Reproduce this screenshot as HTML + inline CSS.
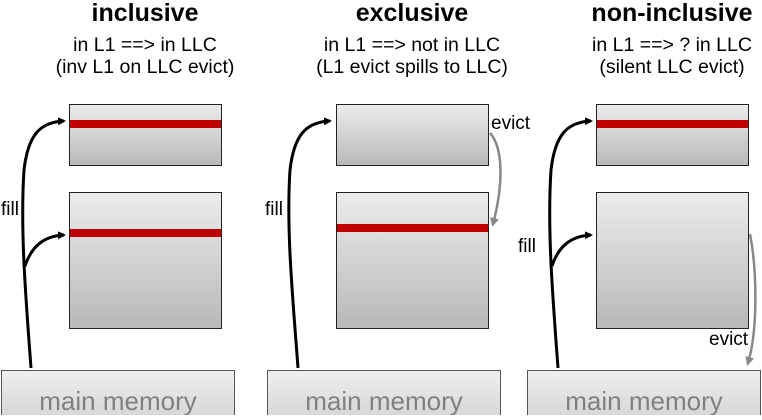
<!DOCTYPE html>
<html><head><style>
body{margin:0;width:762px;height:415px;overflow:hidden;background:#fff;font-family:"Liberation Sans",sans-serif;}
</style></head><body>
<svg width="762" height="415" xmlns="http://www.w3.org/2000/svg" font-family="Liberation Sans, sans-serif">
<defs>
<linearGradient id="g" x1="0" y1="0" x2="0" y2="1"><stop offset="0" stop-color="#ececec"/><stop offset="1" stop-color="#b8b8b8"/></linearGradient>
<linearGradient id="m" x1="0" y1="0" x2="0" y2="1"><stop offset="0" stop-color="#f0f0f0"/><stop offset="1" stop-color="#d4d4d4"/></linearGradient>
<marker id="ab" markerWidth="8" markerHeight="8" refX="6" refY="4" orient="auto" markerUnits="userSpaceOnUse"><path d="M0,0 L8,4 L0,8z" fill="#000"/></marker>
<marker id="ag" markerWidth="9" markerHeight="9" refX="6" refY="4.5" orient="auto" markerUnits="userSpaceOnUse"><path d="M0,0 L9,4.5 L0,9z" fill="#888"/></marker>
</defs>
<g text-anchor="middle">
<text x="145" y="21" font-size="25" font-weight="bold">inclusive</text>
<text x="145" y="51" font-size="19.5">in L1 ==&gt; in LLC</text>
<text x="145" y="73" font-size="19.5">(inv L1 on LLC evict)</text>
<text x="412" y="21" font-size="25" font-weight="bold">exclusive</text>
<text x="412" y="51" font-size="19.5">in L1 ==&gt; not in LLC</text>
<text x="412" y="73" font-size="19.5">(L1 evict spills to LLC)</text>
<text x="672" y="21" font-size="25" font-weight="bold">non-inclusive</text>
<text x="672" y="51" font-size="19.5">in L1 ==&gt; ? in LLC</text>
<text x="672" y="73" font-size="19.5">(silent LLC evict)</text>
</g>
<g stroke="#222" stroke-width="1">
<rect x="69.5" y="104.5" width="152" height="61" fill="url(#g)"/>
<rect x="69.5" y="192.5" width="152" height="136" fill="url(#g)"/>
<rect x="336.5" y="104.5" width="152" height="61" fill="url(#g)"/>
<rect x="336.5" y="192.5" width="152" height="136" fill="url(#g)"/>
<rect x="596.5" y="104.5" width="152" height="61" fill="url(#g)"/>
<rect x="596.5" y="192.5" width="152" height="136" fill="url(#g)"/>
</g>
<g stroke="#555" stroke-width="1">
<rect x="1.5" y="370.5" width="233" height="50" fill="url(#m)"/>
<rect x="267.5" y="370.5" width="233" height="50" fill="url(#m)"/>
<rect x="527.5" y="370.5" width="233" height="50" fill="url(#m)"/>
</g>
<g fill="#c00000">
<rect x="70" y="120" width="151" height="8"/>
<rect x="70" y="229" width="151" height="8"/>
<rect x="337" y="224" width="151" height="8"/>
<rect x="597" y="120" width="151" height="8"/>
</g>
<g font-size="26" fill="#808080" text-anchor="middle">
<text x="118" y="410">main memory</text>
<text x="384" y="410">main memory</text>
<text x="644" y="410">main memory</text>
</g>
<g fill="none" stroke="#000" stroke-width="3">
<path d="M31,368 C26,300 20,230 24,170 C28,135 40,122 64,121" marker-end="url(#ab)"/>
<path d="M25,266 C32,245 45,236 64,235" marker-end="url(#ab)"/>
<path d="M298,368 C293,300 286,230 290,170 C294,135 306,122 330,121" marker-end="url(#ab)"/>
<path d="M558,368 C553,300 547,230 551,170 C555,135 567,122 591,121" marker-end="url(#ab)"/>
<path d="M552,266 C559,245 572,236 591,235" marker-end="url(#ab)"/>
</g>
<g fill="none" stroke="#888" stroke-width="2.5">
<path d="M490,133 C505,150 502,190 493,224" marker-end="url(#ag)"/>
<path d="M750,234 C757,270 758,330 748,363" marker-end="url(#ag)"/>
</g>
<g font-size="19">
<text x="1" y="215">fill</text>
<text x="265" y="215">fill</text>
<text x="518" y="252">fill</text>
<text x="491" y="129">evict</text>
<text x="709" y="345">evict</text>
</g>
</svg>
</body></html>
